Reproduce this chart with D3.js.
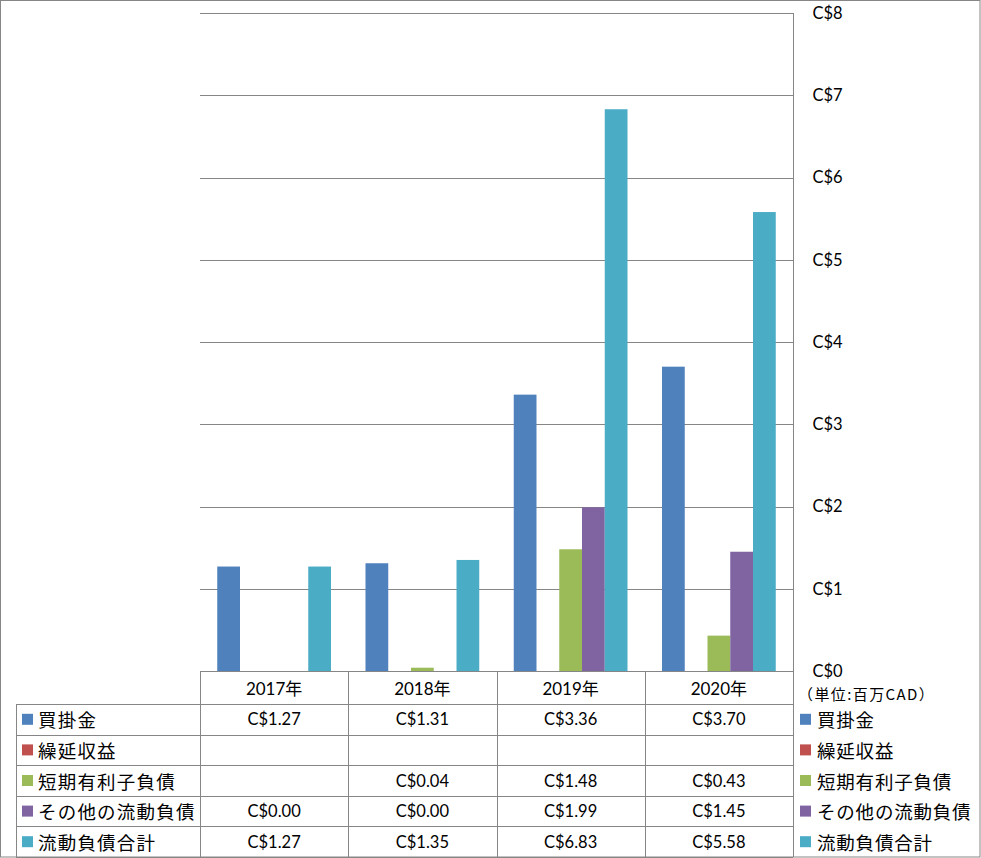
<!DOCTYPE html>
<html><head><meta charset="utf-8">
<script src="https://cdn.jsdelivr.net/npm/d3@7"></script>
<style>
body{margin:0;background:#fff;}
svg{display:block;}
</style></head>
<body>
<script>
const years = ["2017年","2018年","2019年","2020年"];
const seriesNames = ["買掛金","繰延収益","短期有利子負債","その他の流動負債","流動負債合計"];
const seriesColors = ["#4F81BD","#C0504D","#9BBB59","#8064A2","#4BACC6"];
const accountsPayable = [1.27, 1.31, 3.36, 3.70];
const deferredRevenue = [null, null, null, null];
const shortTermDebt = [null, 0.04, 1.48, 0.43];
const otherCurrent = [0.00, 0.00, 1.99, 1.45];
const totalCurrent = [1.27, 1.35, 6.83, 5.58];
const seriesValues = [accountsPayable, deferredRevenue, shortTermDebt, otherCurrent, totalCurrent];
const yTicks = [0,1,2,3,4,5,6,7,8];
const unitLabel = "（単位:百万CAD）";

const W = 981, H = 858;
const latin = "Lato, 'Noto Sans CJK JP', sans-serif";
const cjk = "'Noto Sans CJK JP', sans-serif";
const gridColor = "#868686";

const svg = d3.select("body").append("svg").attr("width", W).attr("height", H);

const plotL = 200, plotR = 793, plotT = 13, plotB = 671;
const x0 = d3.scaleBand().domain(years).range([plotL, plotR]).padding(0);
const x1 = d3.scaleBand().domain(seriesNames).range([0, x0.bandwidth()]).paddingInner(0).paddingOuter(0.758);
const y = d3.scaleLinear().domain([0, 8]).range([plotB, plotT]);

// gridlines
svg.append("g").selectAll("line").data(yTicks).join("line")
  .attr("x1", plotL).attr("x2", plotR)
  .attr("y1", d => Math.round(y(d)) + 0.5).attr("y2", d => Math.round(y(d)) + 0.5)
  .attr("stroke", gridColor).attr("stroke-width", 1);

// bars
const barData = [];
seriesNames.forEach((s, si) => {
  years.forEach((yr, yi) => {
    const v = seriesValues[si][yi];
    if (v !== null && v > 0) barData.push({s, yr, v, c: seriesColors[si]});
  });
});
svg.append("g").selectAll("rect").data(barData).join("rect")
  .attr("x", d => x0(d.yr) + x1(d.s))
  .attr("width", x1.bandwidth())
  .attr("y", d => y(d.v))
  .attr("height", d => y(0) - y(d.v))
  .attr("fill", d => d.c);

// right axis
const axis = d3.axisRight(y).tickValues(yTicks).tickFormat(d => "C$" + d).tickSize(0).tickPadding(19);
const ag = svg.append("g").attr("transform", `translate(${plotR + 0.5},0)`).call(axis);
ag.select(".domain").attr("stroke", gridColor).attr("d", `M0,${plotT}V${plotB}`);
ag.selectAll("text").attr("font-family", latin).attr("font-size", 16.5).attr("fill", "#000");

// unit label
svg.append("text").attr("x", 798).attr("y", 693).attr("dominant-baseline", "central")
  .attr("font-family", cjk).attr("font-size", 15).attr("letter-spacing", 1.4).attr("fill", "#000").text(unitLabel);

// table
const tableG = svg.append("g");
const headerTop = 671, headerBot = 704, rowH = 30.6;
const colEdges = [plotL].concat(years.map(yr => x0(yr) + x0.bandwidth()));
const rowTops = seriesNames.map((s, i) => headerBot + i * rowH);
const tableBot = headerBot + seriesNames.length * rowH;
const lineAttrs = sel => sel.attr("stroke", gridColor).attr("stroke-width", 1).attr("shape-rendering", "crispEdges");

// horizontal lines
tableG.append("line").attr("x1", plotL).attr("x2", plotR).attr("y1", headerTop + 0.5).attr("y2", headerTop + 0.5).call(lineAttrs);
[headerBot].concat(rowTops.slice(1)).concat([tableBot]).forEach(yy => {
  tableG.append("line").attr("x1", 16).attr("x2", plotR).attr("y1", Math.round(yy) + 0.5).attr("y2", Math.round(yy) + 0.5).call(lineAttrs);
});
// vertical lines
colEdges.forEach(xx => {
  tableG.append("line").attr("x1", Math.round(xx) + 0.5).attr("x2", Math.round(xx) + 0.5)
    .attr("y1", headerTop).attr("y2", tableBot).call(lineAttrs);
});
tableG.append("line").attr("x1", 16.5).attr("x2", 16.5).attr("y1", headerBot).attr("y2", tableBot).call(lineAttrs);

// header
tableG.selectAll("text.hdr").data(years).join("text").attr("class", "hdr")
  .attr("x", d => x0(d) + x0.bandwidth() / 2).attr("y", (headerTop + headerBot) / 2 + 1)
  .attr("text-anchor", "middle").attr("dominant-baseline", "central")
  .attr("font-family", latin).attr("font-size", 17).attr("fill", "#000").text(d => d);

// rows
seriesNames.forEach((s, si) => {
  const cy = rowTops[si] + rowH / 2;
  // left legend
  tableG.append("rect").attr("x", 22).attr("y", cy - 5.5).attr("width", 11).attr("height", 11).attr("fill", seriesColors[si]);
  tableG.append("text").attr("x", 38).attr("y", cy).attr("dominant-baseline", "central")
    .attr("font-family", cjk).attr("font-size", 18.5).attr("letter-spacing", 1.2).attr("fill", "#000").text(s);
  // right legend
  tableG.append("rect").attr("x", 800).attr("y", cy - 5.5).attr("width", 11).attr("height", 11).attr("fill", seriesColors[si]);
  tableG.append("text").attr("x", 817).attr("y", cy).attr("dominant-baseline", "central")
    .attr("font-family", cjk).attr("font-size", 18.5).attr("letter-spacing", 0.8).attr("fill", "#000").text(s);
  // values
  years.forEach((yr, yi) => {
    const v = seriesValues[si][yi];
    if (v === null) return;
    tableG.append("text").attr("x", x0(yr) + x0.bandwidth() / 2).attr("y", cy)
      .attr("text-anchor", "middle").attr("dominant-baseline", "central")
      .attr("font-family", latin).attr("font-size", 16.5).attr("fill", "#000").text("C$" + v.toFixed(2));
  });
});

// outer border
svg.append("rect").attr("x", 0.5).attr("y", 0.5).attr("width", W - 1.5).attr("height", H - 1.5)
  .attr("fill", "none").attr("stroke", gridColor).attr("stroke-width", 1);
</script>
</body></html>
